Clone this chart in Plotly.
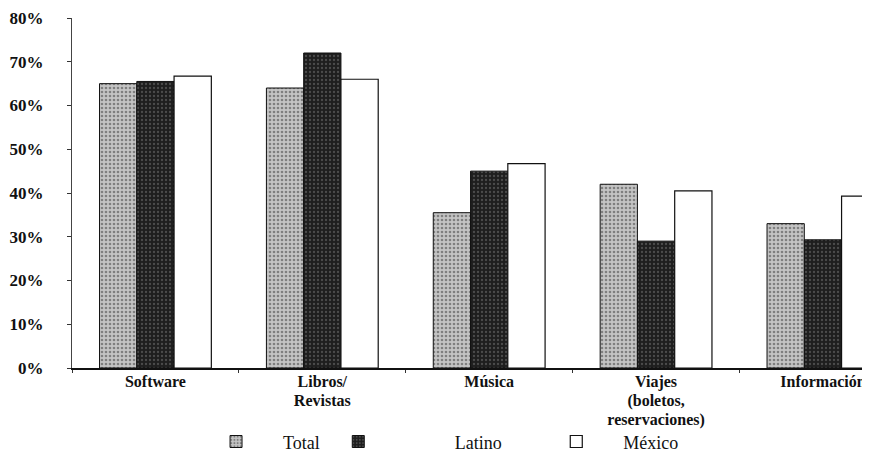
import plotly.graph_objects as go

categories = ["Software", "Libros/<br>Revistas", "Música", "Viajes<br>(boletos,<br>reservaciones)", "Información"]
total = [0.65, 0.64, 0.355, 0.42, 0.33]
latino = [0.655, 0.72, 0.45, 0.29, 0.293]
mexico = [0.667, 0.66, 0.467, 0.405, 0.393]
y_ticks = [0, 0.1, 0.2, 0.3, 0.4, 0.5, 0.6, 0.7, 0.8]

SERIF = "Liberation Serif"
NB = "\u00a0"

# tick text: large glyphs on a slightly tighter line pitch
tick_text = ["<br>".join('<span style="font-size:16px">%s</span>' % part for part in c.split("<br>"))
             for c in categories]

fig = go.Figure()
fig.add_bar(x=categories, y=total, name=NB * 6 + "Total" + NB * 3,
            marker=dict(color="#b4b4b4", line=dict(color="#111", width=1),
                        pattern=dict(shape=".", fgcolor="#3a3a3a", bgcolor="#c4c4c4", size=4, solidity=0.35)))
fig.add_bar(x=categories, y=latino, name=NB * 17 + "Latino" + NB * 11,
            marker=dict(color="#2a2a2a", line=dict(color="#111", width=1),
                        pattern=dict(shape=".", fgcolor="#7a7a7a", bgcolor="#1e1e1e", size=4, solidity=0.25)))
fig.add_bar(x=categories, y=mexico, name=NB * 6 + "México",
            marker=dict(color="white", line=dict(color="#111", width=1.2)))

fig.update_layout(
    width=870, height=466,
    margin=dict(l=64, r=0, t=10, b=106),
    paper_bgcolor="white", plot_bgcolor="white",
    barmode="group", bargap=0.33, bargroupgap=0,
    font=dict(family=SERIF, color="#111"),
    showlegend=True,
    legend=dict(orientation="h", x=0.1787, xanchor="left", y=-0.158, yanchor="top",
                font=dict(size=18, family=SERIF), traceorder="normal",
                bgcolor="rgba(0,0,0,0)"),
)
fig.update_xaxes(range=[-0.5, 4.33], showline=True, linecolor="#111", linewidth=1.5,
                 tickmode="array", tickvals=categories, ticktext=tick_text,
                 ticks="outside", tickson="boundaries", ticklen=3, tickcolor="#333",
                 tickfont=dict(size=14.5, family=SERIF, color="#111", weight="bold"),
                 showgrid=False)
fig.update_yaxes(range=[0, 0.8], tickvals=y_ticks, tickformat=".0%",
                 showline=True, linecolor="#444", linewidth=1,
                 ticks="outside", ticklen=4, tickcolor="#333", ticklabelstandoff=20,
                 tickfont=dict(size=17, family=SERIF, color="#111", weight="bold"),
                 showgrid=False, zeroline=False)

fig.write_html("out.html")
